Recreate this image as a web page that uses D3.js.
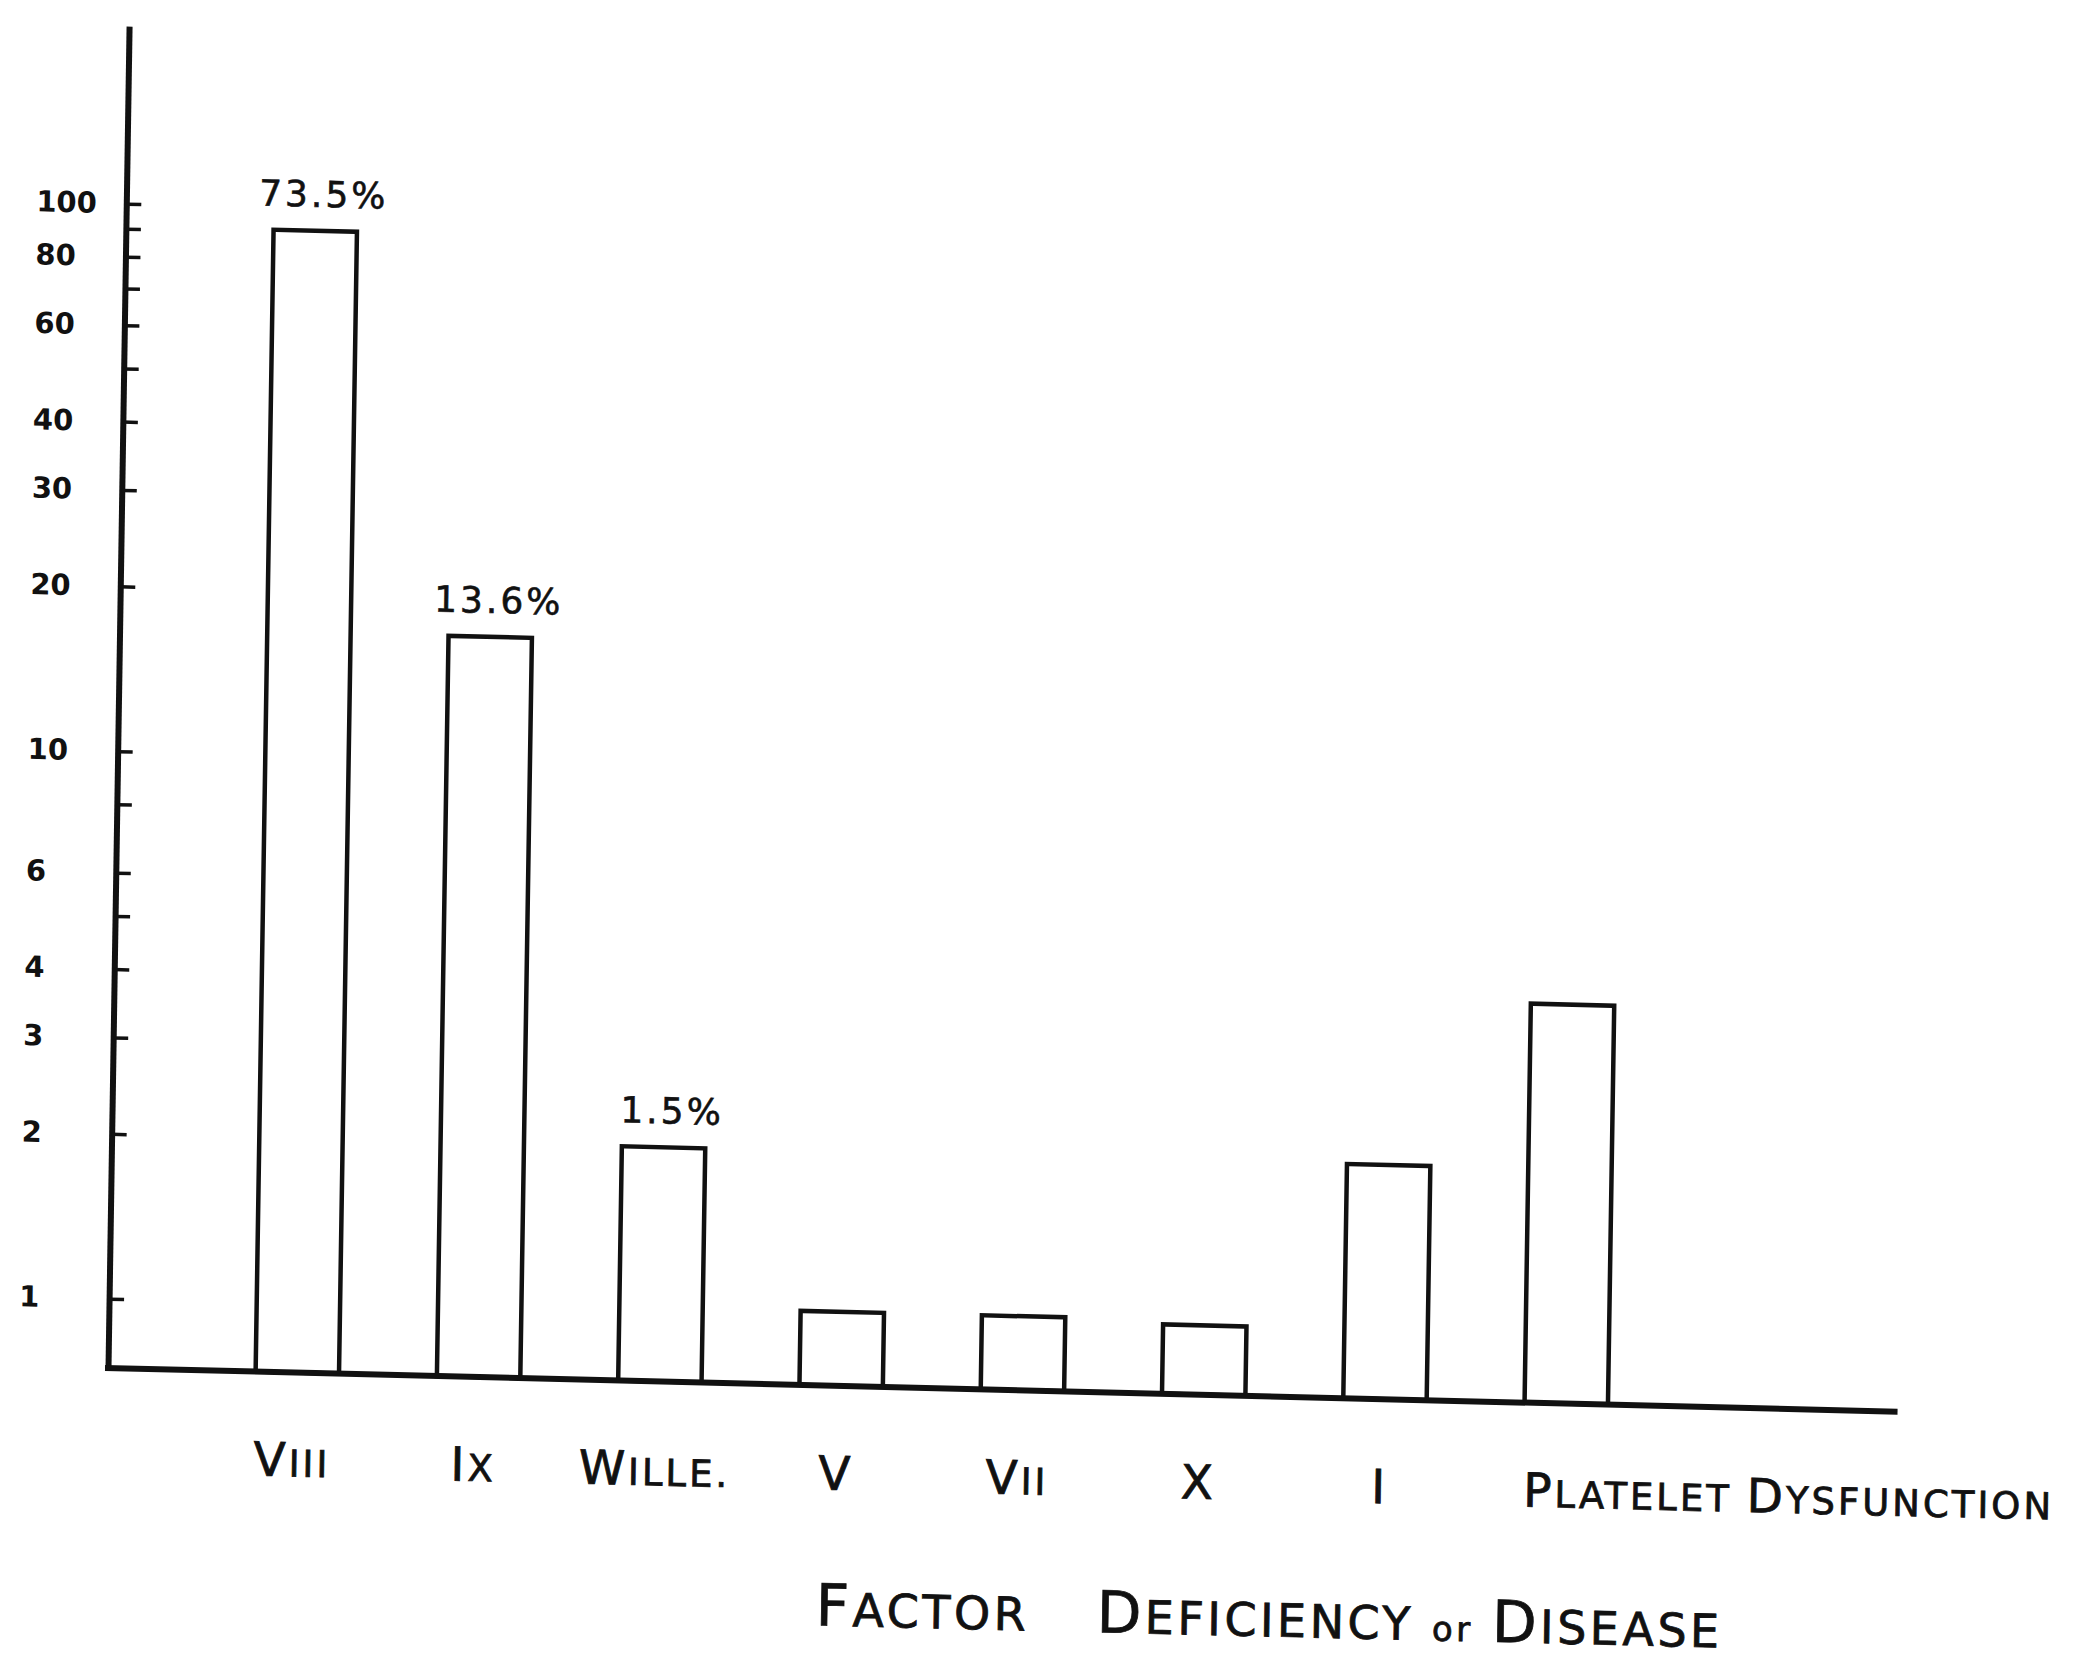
<!DOCTYPE html>
<html><head><meta charset="utf-8">
<script src="https://cdn.jsdelivr.net/npm/d3@7"></script>
<style>
html,body{margin:0;padding:0;background:#fff;}
svg{display:block;}
text{font-family:"DejaVu Sans","Noto Sans",sans-serif;fill:#111;}
</style></head><body>
<svg id="chart" width="2093" height="1662"></svg>
<script>
// ---- data ----
const categories = ["VIII","IX","Wille.","V","VII","X","I","Platelet Dysfunction"];
const values = [91, 16.8, 2.0, 1.02, 1.02, 1.0, 2.0, 4.0];
const annotations = ["73.5%","13.6%","1.5%","","","","",""];
const tickValues = [1,2,3,4,5,6,8,10,20,30,40,50,60,70,80,90,100];
const labeledTicks = [1,2,3,4,6,10,20,30,40,60,80,100];
const xTitle = ["Factor", "Deficiency", "or", "Disease"];

// ---- layout ----
const origin = {x:108, y:1368};
const axisLen = 1790, axisHeight = 1342;
const svg = d3.select("#chart");
svg.append("rect").attr("width",2093).attr("height",1662).attr("fill","#fff");
const g = svg.append("g")
  .attr("transform", `translate(${origin.x},${origin.y}) rotate(0.9) skewY(0.5)`);

const y = d3.scaleLog().domain([0.747, 211]).range([0, -axisHeight]);
const x = d3.scaleBand().domain(categories).range([57, 1591])
  .paddingInner(0.54).paddingOuter(0.5);

// hand-lettered small caps: first letter of each word large, rest smaller capitals
function smallCaps(textSel, str, big, small) {
  str.split(" ").forEach((w, k) => {
    if (k > 0) textSel.append("tspan").attr("font-size", small).text(" ");
    textSel.append("tspan").attr("font-size", big).text(w[0]);
    if (w.length > 1) textSel.append("tspan").attr("font-size", small)
      .style("text-transform","uppercase").text(w.slice(1));
  });
}

// bars
g.selectAll("rect.bar").data(categories).join("rect")
  .attr("class","bar")
  .attr("x", d => x(d))
  .attr("width", x.bandwidth())
  .attr("y", (d,i) => y(values[i]))
  .attr("height", (d,i) => -y(values[i]))
  .attr("fill","#fff").attr("stroke","#111").attr("stroke-width",4.5);

// y axis
const yAxis = d3.axisLeft(y).tickValues(tickValues)
  .tickSizeInner(-15).tickSizeOuter(0)
  .tickFormat(d => labeledTicks.includes(d) ? String(d) : "");
const ya = g.append("g").call(yAxis);
ya.select(".domain").attr("stroke","#111").attr("stroke-width",6);
ya.selectAll(".tick line").attr("stroke","#111").attr("stroke-width",3.5);
ya.selectAll(".tick text")
  .attr("x",-90).attr("text-anchor","start")
  .attr("font-size",29).attr("font-weight","bold")
  .attr("font-family",'"DejaVu Sans",sans-serif')
  .attr("fill","#111");

// x axis line
g.append("line").attr("x1",-3).attr("x2",axisLen).attr("y1",0).attr("y2",0)
  .attr("stroke","#111").attr("stroke-width",6);

// category labels
const last = categories[categories.length-1];
g.selectAll("text.cat").data(categories).join("text")
  .attr("class","cat")
  .attr("x", d => d === last ? x(d) : x(d) + x.bandwidth()/2 - 4)
  .attr("y", 104)
  .attr("text-anchor", d => d === last ? "start" : "middle")
  .attr("letter-spacing", 3)
  .attr("stroke","#111").attr("stroke-width",0.8)
  .each(function(d){ smallCaps(d3.select(this), d, 47, 37); });

// annotations
g.selectAll("text.ann").data(categories).join("text")
  .attr("class","ann")
  .attr("x", d => x(d) + x.bandwidth()/2 + 8)
  .attr("y", (d,i) => y(values[i]) - 24)
  .attr("text-anchor","middle")
  .attr("font-size", 36).attr("letter-spacing", 3)
  .attr("stroke","#111").attr("stroke-width",0.6)
  .text((d,i) => annotations[i]);

// axis title
const t = g.append("text").attr("x",1165).attr("y",240)
  .attr("text-anchor","middle").attr("letter-spacing", 3.5)
  .attr("stroke","#111").attr("stroke-width",0.8);
smallCaps(t, xTitle[0], 58, 46);
t.append("tspan").attr("font-size",46).text("\u2003 ");
smallCaps(t, xTitle[1], 58, 46);
t.append("tspan").attr("font-size",46).text(" ");
t.append("tspan").attr("font-size",34).text(xTitle[2]);
t.append("tspan").attr("font-size",46).text(" ");
smallCaps(t, xTitle[3], 58, 46);
</script>
</body></html>
